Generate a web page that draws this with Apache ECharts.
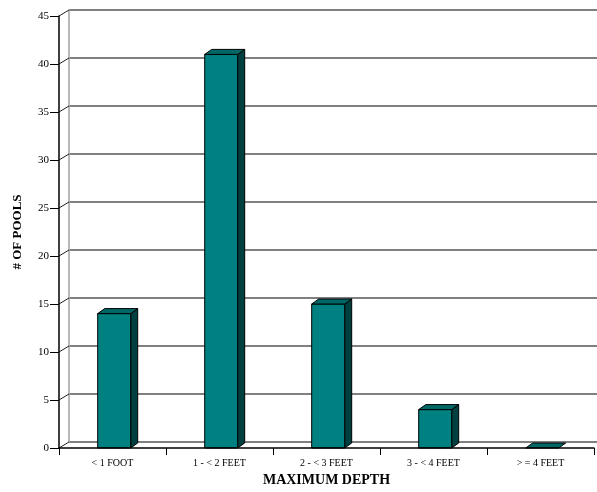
<!DOCTYPE html>
<html>
<head>
<meta charset="utf-8">
<script src="https://cdn.jsdelivr.net/npm/echarts@6/dist/echarts.min.js"></script>
<style>
  html, body { margin: 0; padding: 0; background: #fff; }
  #chart { width: 597px; height: 492px; }
</style>
</head>
<body>
<div id="chart"></div>
<script>
// Pool counts by maximum depth
const depthCategories = ['< 1 FOOT', '1 - < 2 FEET', '2 - < 3 FEET', '3 - < 4 FEET', '> = 4 FEET'];
const poolCounts = [14, 41, 15, 4, 0];
const yTicks = [0, 5, 10, 15, 20, 25, 30, 35, 40, 45];

const FONT = '"Liberation Serif", "Times New Roman", serif';
// depth of the pseudo-3D wall and of each bar
const WALL_DX = 10, WALL_DY = -6;
const BAR_DX = 7, BAR_DY = -5;
const BAR_W = 33, BAR_SHIFT = 1.7;

const chart = echarts.init(document.getElementById('chart'), null, { renderer: 'canvas' });

function renderBar(params, api) {
  const i = api.value(0), v = api.value(1);
  const base = api.coord([i, 0]);
  const top = api.coord([i, v]);
  const x0 = base[0] - BAR_W / 2 + BAR_SHIFT;
  const x1 = x0 + BAR_W;
  const yb = base[1], yt = top[1];
  const stroke = { stroke: '#000', lineWidth: 1, lineJoin: 'round' };
  const children = [];
  if (yb - yt > 0.5) {
    children.push({
      type: 'polygon',
      shape: { points: [[x1, yt], [x1 + BAR_DX, yt + BAR_DY], [x1 + BAR_DX, yb + BAR_DY], [x1, yb]] },
      style: Object.assign({ fill: '#003f3f' }, stroke)
    });
    children.push({
      type: 'rect',
      shape: { x: x0, y: yt, width: BAR_W, height: yb - yt },
      style: Object.assign({ fill: '#008080' }, stroke)
    });
  }
  children.push({
    type: 'polygon',
    shape: { points: [[x0, yt], [x0 + BAR_DX, yt + BAR_DY], [x1 + BAR_DX, yt + BAR_DY], [x1, yt]] },
    style: Object.assign({ fill: '#006767' }, stroke)
  });
  return { type: 'group', children: children };
}

function renderWallLink(params, api) {
  const v = api.value(0);
  const p = api.coord([0, v]);
  const x = params.coordSys.x;
  return {
    type: 'line',
    shape: { x1: x, y1: p[1], x2: x + WALL_DX, y2: p[1] + WALL_DY },
    style: { stroke: '#222', lineWidth: 1 }
  };
}

chart.setOption({
  animation: false,
  backgroundColor: '#fff',
  grid: [
    { left: 59, top: 16, right: 3, bottom: 44 },
    { left: 59 + WALL_DX, top: 16 + WALL_DY, right: 0, bottom: 44 - WALL_DY }
  ],
  xAxis: [
    {
      gridIndex: 0,
      type: 'category',
      data: depthCategories,
      boundaryGap: true,
      axisLine: { lineStyle: { color: '#000', width: 1.5 } },
      axisTick: { show: true, length: 7, alignWithLabel: false, lineStyle: { color: '#000', width: 1 } },
      axisLabel: { fontFamily: FONT, fontSize: 10, color: '#000', margin: 10 },
      splitLine: { show: false },
      name: 'MAXIMUM DEPTH',
      nameLocation: 'middle',
      nameGap: 25,
      nameTextStyle: { fontFamily: FONT, fontSize: 14, fontWeight: 'bold', color: '#000' },
      z: 5
    },
    {
      gridIndex: 1,
      type: 'category',
      data: depthCategories,
      show: false
    }
  ],
  yAxis: [
    {
      gridIndex: 0,
      type: 'value',
      min: 0,
      max: 45,
      interval: 5,
      axisLine: { show: true, lineStyle: { color: '#000', width: 1.5 } },
      axisTick: { show: true, length: 9, lineStyle: { color: '#000', width: 1 } },
      axisLabel: { fontFamily: FONT, fontSize: 11, color: '#000', margin: 10 },
      splitLine: { show: false },
      name: '# OF POOLS',
      nameLocation: 'middle',
      nameGap: 35,
      nameRotate: 90,
      nameTextStyle: { fontFamily: FONT, fontSize: 13, fontWeight: 'bold', color: '#000' },
      z: 5
    },
    {
      gridIndex: 1,
      type: 'value',
      min: 0,
      max: 45,
      interval: 5,
      axisLine: { show: true, lineStyle: { color: '#a0a0a0', width: 1.5 } },
      axisTick: { show: false },
      axisLabel: { show: false },
      splitLine: { show: true, lineStyle: { color: '#808080', width: 2 } }
    }
  ],
  series: [
    {
      type: 'custom',
      xAxisIndex: 0,
      yAxisIndex: 0,
      renderItem: renderWallLink,
      data: yTicks.map(v => [v]),
      encode: { y: 0 },
      clip: false,
      silent: true,
      z: 3
    },
    {
      type: 'custom',
      xAxisIndex: 0,
      yAxisIndex: 0,
      renderItem: renderBar,
      data: poolCounts.map((v, i) => [i, v]),
      encode: { x: 0, y: 1 },
      clip: false,
      z: 4
    }
  ]
});
</script>
</body>
</html>
